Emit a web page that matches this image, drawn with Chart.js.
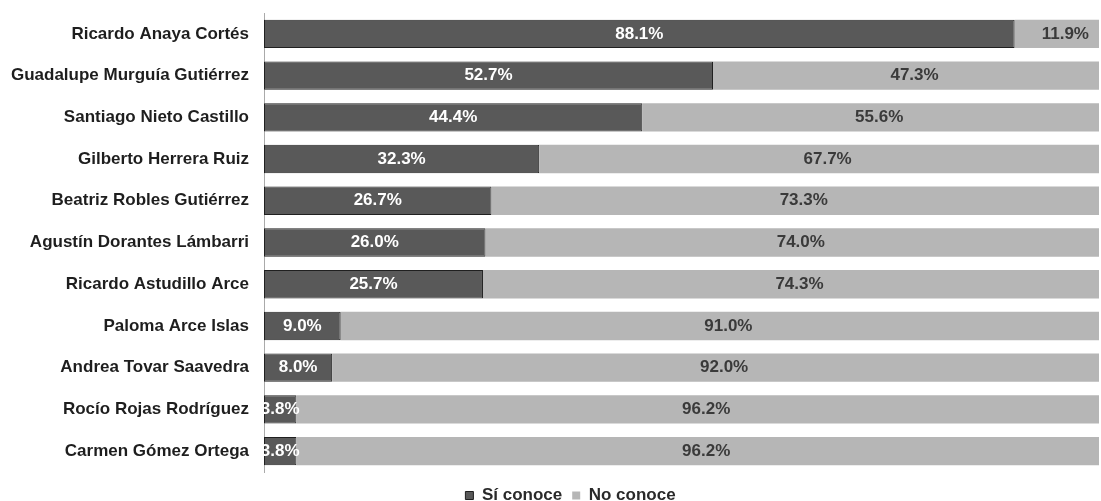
<!DOCTYPE html>
<html>
<head>
<meta charset="utf-8">
<script src="https://cdn.jsdelivr.net/npm/chart.js@4/dist/chart.umd.min.js"></script>
<style>
  html, body { margin: 0; padding: 0; background: #ffffff; }
  #wrap { width: 1101px; height: 501px; }
</style>
</head>
<body>
<div id="wrap"><canvas id="conoceChart"></canvas></div>
<script>
const nombres = [
  "Ricardo Anaya Cortés",
  "Guadalupe Murguía Gutiérrez",
  "Santiago Nieto Castillo",
  "Gilberto Herrera Ruiz",
  "Beatriz Robles Gutiérrez",
  "Agustín Dorantes Lámbarri",
  "Ricardo Astudillo Arce",
  "Paloma Arce Islas",
  "Andrea Tovar Saavedra",
  "Rocío Rojas Rodríguez",
  "Carmen Gómez Ortega",
];
const siConoce = [88.1, 52.7, 44.4, 32.3, 26.7, 26.0, 25.7, 9.0, 8.0, 3.8, 3.8];
const noConoce = [11.9, 47.3, 55.6, 67.7, 73.3, 74.0, 74.3, 91.0, 92.0, 96.2, 96.2];

const FONT = "'Liberation Sans', Arial, sans-serif";

// draws the percentage inside each bar segment
const barLabels = {
  id: "barLabels",
  afterDatasetsDraw(chart) {
    const ctx = chart.ctx;
    ctx.save();
    ctx.font = `bold 17px ${FONT}`;
    ctx.textAlign = "center";
    ctx.textBaseline = "middle";
    chart.data.datasets.forEach((ds, i) => {
      const meta = chart.getDatasetMeta(i);
      meta.data.forEach((bar, j) => {
        const cx = (bar.x + bar.base) / 2;
        ctx.fillStyle = i === 0 ? "#ffffff" : "#3a3a3a";
        ctx.fillText(`${ds.data[j].toFixed(1)}%`, cx, bar.y);
      });
    });
    ctx.restore();
  },
};

// legend sits a bit right of the canvas centre in the original
const legendShift = {
  id: "legendShift",
  afterLayout(chart) {
    chart.legend.left += 21;
    chart.legend.right += 21;
  },
};

new Chart(document.getElementById("conoceChart"), {
  type: "bar",
  data: {
    labels: nombres,
    datasets: [
      {
        label: "Sí conoce",
        data: siConoce,
        backgroundColor: "#595959",
        borderColor: "#202020",
        borderWidth: 1,
        borderSkipped: false,
        barPercentage: 0.68,
        categoryPercentage: 1,
      },
      {
        label: "No conoce",
        data: noConoce,
        backgroundColor: "#b6b6b6",
        borderColor: "#9a9a9a",
        borderWidth: 0,
        barPercentage: 0.68,
        categoryPercentage: 1,
      },
    ],
  },
  options: {
    indexAxis: "y",
    responsive: true,
    maintainAspectRatio: false,
    animation: false,
    layout: {
      padding: { top: 13, right: 2, bottom: -13, left: 0 },
    },
    plugins: {
      tooltip: { enabled: false },
      legend: {
        position: "bottom",
        labels: {
          color: "#2a2a2a",
          boxWidth: 8,
          boxHeight: 8,
          padding: 10,
          font: { family: FONT, size: 17, weight: "bold" },
        },
      },
    },
    scales: {
      x: {
        stacked: true,
        min: 0,
        max: 98,
        grid: { display: false },
        border: { display: false },
        ticks: { display: false },
        afterFit: (axis) => {
          axis.height = 5;
        },
      },
      y: {
        stacked: true,
        grid: { display: false },
        border: { display: true, color: "#aaaaaa", dash: [1, 2] },
        ticks: {
          color: "#1e1e1e",
          padding: 7,
          font: { family: FONT, size: 17, weight: "bold" },
        },
        afterFit: (axis) => {
          axis.width = 264;
          axis.paddingTop = 0;
          axis.paddingBottom = 0;
        },
      },
    },
  },
  plugins: [barLabels, legendShift],
});
</script>
</body>
</html>
